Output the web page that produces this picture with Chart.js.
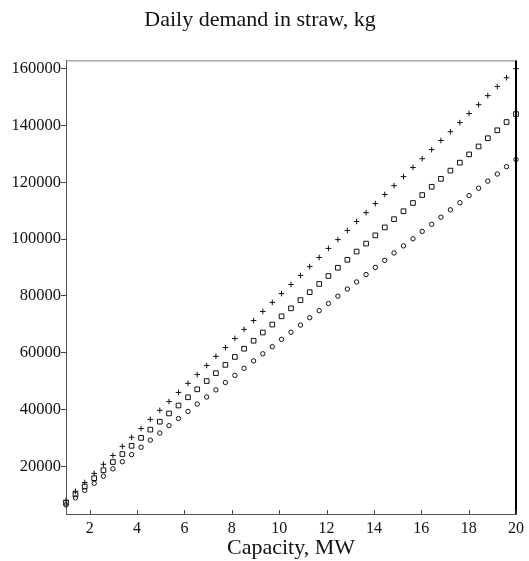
<!DOCTYPE html>
<html>
<head>
<meta charset="utf-8">
<title>Daily demand in straw</title>
<script src="https://cdn.jsdelivr.net/npm/chart.js@4.4.1/dist/chart.umd.min.js"></script>
<style>
  html, body { margin: 0; padding: 0; background: #fff; }
  #chart { display: block; }
</style>
</head>
<body>
<canvas id="chart" width="529" height="561"></canvas>
<script>
// capacity, MW
const capacity = [1, 1.40, 1.79, 2.19, 2.58, 2.98, 3.38, 3.77, 4.17, 4.56, 4.96, 5.35, 5.75,
  6.15, 6.54, 6.94, 7.33, 7.73, 8.13, 8.52, 8.92, 9.31, 9.71, 10.10, 10.50, 10.90, 11.29,
  11.69, 12.08, 12.48, 12.88, 13.27, 13.67, 14.06, 14.46, 14.85, 15.25, 15.65, 16.04, 16.44,
  16.83, 17.23, 17.63, 18.02, 18.42, 18.81, 19.21, 19.60, 20];

// daily straw demand, kg (three series)
const demandCross = [8000, 11200, 14300, 17500, 20700, 23800, 27000, 30200, 33300, 36500,
  39700, 42800, 46000, 49200, 52300, 55500, 58700, 61800, 65000, 68200, 71300, 74500, 77700,
  80800, 84000, 87200, 90300, 93500, 96700, 99800, 103000, 106200, 109300, 112500, 115700,
  118800, 122000, 125200, 128300, 131500, 134700, 137800, 141000, 144200, 147300, 150500,
  153700, 156800, 160000];
const demandSquare = [7200, 10100, 12900, 15800, 18600, 21500, 24300, 27200, 30000, 32900,
  35700, 38600, 41400, 44300, 47100, 50000, 52800, 55700, 58500, 61400, 64200, 67100, 69900,
  72800, 75600, 78500, 81300, 84200, 87000, 89900, 92700, 95600, 98400, 101300, 104100,
  107000, 109800, 112700, 115500, 118400, 121200, 124100, 126900, 129800, 132600, 135500,
  138300, 141200, 144000];
const demandCircle = [6400, 8900, 11500, 14000, 16500, 19100, 21600, 24100, 26700, 29200,
  31700, 34300, 36800, 39300, 41900, 44400, 46900, 49500, 52000, 54500, 57100, 59600, 62100,
  64700, 67200, 69700, 72300, 74800, 77300, 79900, 82400, 84900, 87500, 90000, 92500, 95100,
  97600, 100100, 102700, 105200, 107700, 110300, 112800, 115300, 117900, 120400, 122900,
  125500, 128000];

const xTicks = [2, 4, 6, 8, 10, 12, 14, 16, 18, 20];
const yTicks = [20000, 40000, 60000, 80000, 100000, 120000, 140000, 160000];

const serif = "'Liberation Serif', 'DejaVu Serif', serif";

const toPoints = (ys) => capacity.map((x, i) => ({ x: x, y: ys[i] }));

// top/right frame lines and inward x tick marks
const framePlugin = {
  id: 'frame',
  afterDraw(chart) {
    const { ctx, chartArea, scales } = chart;
    ctx.save();
    ctx.strokeStyle = '#808080';
    ctx.lineWidth = 1;
    ctx.beginPath();
    ctx.moveTo(chartArea.left, chartArea.top + 0.5);
    ctx.lineTo(chartArea.right, chartArea.top + 0.5);
    ctx.stroke();

    ctx.strokeStyle = '#000';
    ctx.lineWidth = 2;
    ctx.beginPath();
    ctx.moveTo(chartArea.right, chartArea.top);
    ctx.lineTo(chartArea.right, chartArea.bottom);
    ctx.stroke();

    ctx.strokeStyle = '#444';
    ctx.lineWidth = 1;
    xTicks.forEach((v) => {
      const px = Math.round(scales.x.getPixelForValue(v)) + 0.5;
      ctx.beginPath();
      ctx.moveTo(px, chartArea.bottom - 4);
      ctx.lineTo(px, chartArea.bottom);
      ctx.stroke();
    });
    ctx.restore();
  }
};

new Chart(document.getElementById('chart'), {
  type: 'scatter',
  data: {
    datasets: [
      {
        label: 'cross',
        data: toPoints(demandCross),
        pointStyle: 'cross',
        radius: 2.8,
        borderColor: '#111',
        borderWidth: 1,
        clip: false
      },
      {
        label: 'square',
        data: toPoints(demandSquare),
        pointStyle: 'rect',
        radius: 3.3,
        borderColor: '#111',
        backgroundColor: 'rgba(0,0,0,0)',
        borderWidth: 1,
        clip: false
      },
      {
        label: 'circle',
        data: toPoints(demandCircle),
        pointStyle: 'circle',
        radius: 2.2,
        borderColor: '#111',
        backgroundColor: 'rgba(0,0,0,0)',
        borderWidth: 1,
        clip: false
      }
    ]
  },
  options: {
    responsive: false,
    animation: false,
    layout: { padding: { left: 0, right: 9, top: 0, bottom: 0 } },
    plugins: {
      legend: { display: false },
      tooltip: { enabled: false },
      title: {
        display: true,
        text: 'Daily demand in straw, kg',
        color: '#111',
        font: { family: serif, size: 22, weight: 'normal' },
        padding: { top: 7, bottom: 27 }
      }
    },
    scales: {
      x: {
        type: 'linear',
        min: 1,
        max: 20,
        afterBuildTicks: (scale) => { scale.ticks = xTicks.map((v) => ({ value: v })); },
        afterFit: (scale) => { scale.height = 47; },
        grid: { drawOnChartArea: false, drawTicks: false },
        border: { color: '#555', width: 1 },
        ticks: {
          color: '#111',
          padding: 5,
          maxRotation: 0,
          autoSkip: false,
          font: { family: serif, size: 16 },
          callback: (v) => String(v)
        },
        title: {
          display: true,
          text: 'Capacity, MW',
          color: '#111',
          font: { family: serif, size: 22 },
          padding: { top: 0, bottom: 0 }
        }
      },
      y: {
        type: 'linear',
        min: 3200,
        max: 162900,
        afterBuildTicks: (scale) => { scale.ticks = yTicks.map((v) => ({ value: v })); },
        afterFit: (scale) => { scale.width = 66; },
        grid: { drawOnChartArea: false, drawTicks: true, tickLength: 5, color: '#444' },
        border: { color: '#555', width: 1 },
        ticks: {
          color: '#111',
          padding: 0,
          autoSkip: false,
          font: { family: serif, size: 16.5 },
          callback: (v) => String(v)
        }
      }
    }
  },
  plugins: [framePlugin]
});
</script>
</body>
</html>
